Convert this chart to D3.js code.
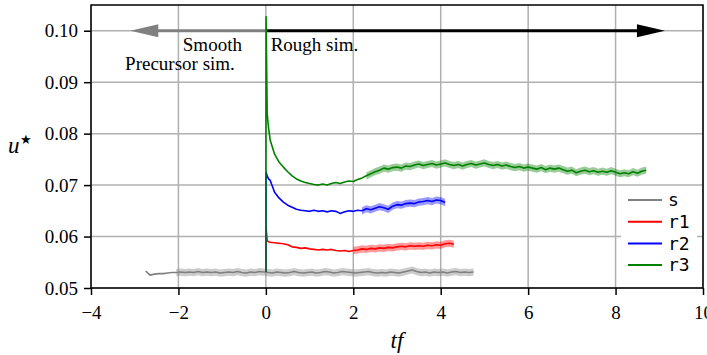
<!DOCTYPE html>
<html>
<head>
<meta charset="utf-8">
<script src="https://cdn.jsdelivr.net/npm/d3@7"></script>
<style>
  body { margin: 0; background: #fff; }
  svg { display: block; }
</style>
</head>
<body>
<div id="chart"></div>
<script>
// ---- data ----
var xTicks = [-4, -2, 0, 2, 4, 6, 8, 10];
var yTicks = [0.05, 0.06, 0.07, 0.08, 0.09, 0.10];
var seriesNames = ['s', 'r1', 'r2', 'r3'];

// smooth precursor, sampled every 0.1 from tf = -2.75
var sStart = -2.75;
var sValues = [0.0533, 0.0525, 0.0527, 0.0528, 0.0528, 0.0529, 0.0530, 0.0530, 0.0531, 0.0530,
  0.0531, 0.0530, 0.0532, 0.0530, 0.0531, 0.0530, 0.0531, 0.0529, 0.0530, 0.0531,
  0.0530, 0.0532, 0.0530, 0.0529, 0.0531, 0.0530, 0.0532, 0.0531, 0.0530, 0.0529,
  0.0531, 0.0530, 0.0529, 0.0530, 0.0532, 0.0530, 0.0529, 0.0530, 0.0531, 0.0529,
  0.0530, 0.0532, 0.0531, 0.0529, 0.0530, 0.0532, 0.0531, 0.0530, 0.0529, 0.0530,
  0.0531, 0.0532, 0.0530, 0.0529, 0.0530, 0.0529, 0.0531, 0.0530, 0.0529, 0.0531,
  0.0533, 0.0535, 0.0532, 0.0530, 0.0531, 0.0529, 0.0531, 0.0530, 0.0531, 0.0529,
  0.0531, 0.0532, 0.0530, 0.0531, 0.0530, 0.0531];

// rough runs: spike right after tf = 0, then samples every 0.1 from tf = 0.1
var headT = [0, 0.005, 0.03, 0.06];
var r1Head = [0.0531, 0.0618, 0.0592, 0.0590];
var r2Head = [0.0531, 0.0725, 0.0718, 0.0712];
var r3Head = [0.0531, 0.1027, 0.0840, 0.0812];
var bodyStart = 0.1;
var sampleStep = 0.1;

var r1Values = [0.0589, 0.0588, 0.0587, 0.0586, 0.0584, 0.0580, 0.0579, 0.0577, 0.0578, 0.0576,
  0.0575, 0.0574, 0.0575, 0.0574, 0.0575, 0.0573, 0.0572, 0.0573, 0.0571, 0.0573,
  0.0574, 0.0576, 0.0575, 0.0577, 0.0576, 0.0578, 0.0577, 0.0579, 0.0578, 0.0580,
  0.0581, 0.0580, 0.0582, 0.0581, 0.0582, 0.0581, 0.0583, 0.0582, 0.0584, 0.0583,
  0.0586, 0.0587, 0.0585];

var r2Values = [0.0709, 0.0686, 0.0675, 0.0667, 0.0661, 0.0657, 0.0653, 0.0651, 0.0650, 0.0649,
  0.0651, 0.0649, 0.0650, 0.0648, 0.0650, 0.0649, 0.0645, 0.0648, 0.0650, 0.0649,
  0.0651, 0.0650, 0.0654, 0.0652, 0.0655, 0.0658, 0.0656, 0.0653, 0.0659, 0.0662,
  0.0661, 0.0664, 0.0665, 0.0664, 0.0667, 0.0668, 0.0670, 0.0668, 0.0671, 0.0670,
  0.0666];

var r3Values = [0.0787, 0.0760, 0.0745, 0.0735, 0.0726, 0.0718, 0.0712, 0.0708, 0.0705, 0.0703,
  0.0701, 0.0700, 0.0702, 0.0700, 0.0703, 0.0705, 0.0703, 0.0706, 0.0708, 0.0707,
  0.0711, 0.0714, 0.0718, 0.0722, 0.0726, 0.0729, 0.0733, 0.0731, 0.0734, 0.0735,
  0.0733, 0.0737, 0.0736, 0.0739, 0.0741, 0.0738, 0.0740, 0.0742, 0.0739, 0.0741,
  0.0743, 0.0740, 0.0738, 0.0740, 0.0737, 0.0740, 0.0742, 0.0739, 0.0741, 0.0743,
  0.0740, 0.0738, 0.0740, 0.0737, 0.0739, 0.0736, 0.0734, 0.0736, 0.0733, 0.0735,
  0.0733, 0.0731, 0.0734, 0.0730, 0.0733, 0.0731, 0.0733, 0.0730, 0.0727, 0.0729,
  0.0724, 0.0727, 0.0729, 0.0726, 0.0728, 0.0725, 0.0727, 0.0725, 0.0728, 0.0725,
  0.0722, 0.0724, 0.0722, 0.0726, 0.0723, 0.0727, 0.0729];

// shaded band: where it begins and its half width
var bandFrom = [-2.1, 1.95, 2.15, 2.3];
var bandHalf = [0.0007, 0.0007, 0.0007, 0.0007];

// annotation arrows
var arrowY = 0.10;
var arrowLeftTip = -3.1;
var arrowRightTip = 9.13;

// ---- styles ----
var colors = { s: '#808080', r1: '#ff0000', r2: '#0000ff', r3: '#008000' };
var serif = '"Liberation Serif", "Times New Roman", serif';
var mono = '"DejaVu Sans Mono", monospace';

var W = 707, H = 355;
var margin = { top: 5, right: 4, bottom: 67, left: 91 };

var svg = d3.select('#chart').append('svg')
  .attr('width', W).attr('height', H);

var x = d3.scaleLinear().domain([-4, 10]).range([margin.left, W - margin.right]);
var y = d3.scaleLinear().domain([0.05, 0.105]).range([H - margin.bottom, margin.top]);

// build point lists
function regular(start, vals) {
  return vals.map(function (v, i) { return { t: start + i * sampleStep, v: v }; });
}
function withHead(head, vals) {
  var pts = headT.map(function (t, i) { return { t: t, v: head[i] }; });
  return pts.concat(regular(bodyStart, vals));
}
var series = [
  { name: 's', pts: regular(sStart, sValues) },
  { name: 'r1', pts: withHead(r1Head, r1Values) },
  { name: 'r2', pts: withHead(r2Head, r2Values) },
  { name: 'r3', pts: withHead(r3Head, r3Values) }
];

// grid
svg.append('g').selectAll('line').data(xTicks).enter().append('line')
  .attr('x1', function (d) { return x(d); }).attr('x2', function (d) { return x(d); })
  .attr('y1', y(0.105)).attr('y2', y(0.05))
  .attr('stroke', '#b0b0b0').attr('stroke-width', 1.5);
svg.append('g').selectAll('line').data(yTicks).enter().append('line')
  .attr('y1', function (d) { return y(d); }).attr('y2', function (d) { return y(d); })
  .attr('x1', x(-4)).attr('x2', x(10))
  .attr('stroke', '#b0b0b0').attr('stroke-width', 1.5);

// arrows
function arrow(tip, color, width) {
  var dir = tip > 0 ? 1 : -1;
  var headLen = 28, headHalf = 6.5;
  var xt = x(tip), yy = y(arrowY);
  svg.append('line')
    .attr('x1', x(0)).attr('x2', xt - dir * headLen + dir * 2)
    .attr('y1', yy).attr('y2', yy)
    .attr('stroke', color).attr('stroke-width', width);
  svg.append('path')
    .attr('d', 'M' + xt + ',' + yy + 'L' + (xt - dir * headLen) + ',' + (yy - headHalf) +
      'L' + (xt - dir * headLen) + ',' + (yy + headHalf) + 'Z')
    .attr('fill', color);
}
arrow(arrowLeftTip, '#808080', 3);
arrow(arrowRightTip, '#000000', 3);

svg.append('text').attr('x', x(-1.9)).attr('y', y(arrowY) + 20)
  .style('font-family', serif).style('font-size', '19px').text('Smooth');
svg.append('text').attr('x', x(-3.22)).attr('y', y(arrowY) + 39)
  .style('font-family', serif).style('font-size', '19px').text('Precursor sim.');
svg.append('text').attr('x', x(0.11)).attr('y', y(arrowY) + 20)
  .style('font-family', serif).style('font-size', '19px').text('Rough sim.');

// bands
series.forEach(function (s, i) {
  var sub = s.pts.filter(function (p) { return p.t >= bandFrom[i]; });
  var area = d3.area()
    .x(function (p) { return x(p.t); })
    .y0(function (p) { return y(p.v - bandHalf[i]); })
    .y1(function (p) { return y(p.v + bandHalf[i]); });
  svg.append('path').datum(sub).attr('d', area)
    .attr('fill', colors[s.name]).attr('fill-opacity', 0.4);
});

// lines
var line = d3.line().x(function (p) { return x(p.t); }).y(function (p) { return y(p.v); });
series.forEach(function (s) {
  svg.append('path').datum(s.pts).attr('d', line)
    .attr('fill', 'none').attr('stroke', colors[s.name])
    .attr('stroke-width', 1.6).attr('stroke-linejoin', 'round');
});

// axes
var xAxis = d3.axisBottom(x).tickValues(xTicks).tickSize(7).tickPadding(6).tickFormat(d3.format('d'));
var yAxis = d3.axisLeft(y).tickValues(yTicks).tickSize(7).tickPadding(6).tickFormat(d3.format('.2f'));
var gx = svg.append('g').attr('transform', 'translate(0,' + y(0.05) + ')').call(xAxis);
var gy = svg.append('g').attr('transform', 'translate(' + x(-4) + ',0)').call(yAxis);
[gx, gy].forEach(function (g) {
  g.select('.domain').remove();
  g.attr('font-family', null).attr('font-size', null);
  g.selectAll('.tick line').attr('stroke', '#000').attr('stroke-width', 1.5);
  g.selectAll('.tick text')
    .style('font-family', serif).style('font-size', '19px').attr('fill', '#000');
});
gx.selectAll('.tick text').attr('dy', '0.95em');

// frame
svg.append('rect')
  .attr('x', x(-4)).attr('y', y(0.105))
  .attr('width', x(10) - x(-4)).attr('height', y(0.05) - y(0.105))
  .attr('fill', 'none').attr('stroke', '#000').attr('stroke-width', 1.5);

// axis labels
svg.append('text').attr('x', (x(-4) + x(10)) / 2).attr('y', 348)
  .attr('text-anchor', 'middle')
  .style('font-family', serif).style('font-size', '23px').style('font-style', 'italic')
  .text('tf');
var ul = svg.append('text').attr('x', 8).attr('y', 153)
  .style('font-family', serif).style('font-size', '23px');
ul.append('tspan').style('font-style', 'italic').text('u');
ul.append('tspan').attr('dy', -9).style('font-size', '13px').text('\u2605');

// legend
var lg = svg.append('g');
lg.append('rect').attr('x', 621).attr('y', 188).attr('width', 76).attr('height', 90)
  .attr('fill', '#fff');
seriesNames.forEach(function (n, i) {
  var yy = 200 + i * 21.7;
  lg.append('line').attr('x1', 628).attr('x2', 662).attr('y1', yy).attr('y2', yy)
    .attr('stroke', colors[n]).attr('stroke-width', 2);
  lg.append('text').attr('x', 668).attr('y', yy).attr('dy', '0.35em')
    .style('font-family', mono).style('font-size', '18px').text(n);
});
</script>
</body>
</html>
